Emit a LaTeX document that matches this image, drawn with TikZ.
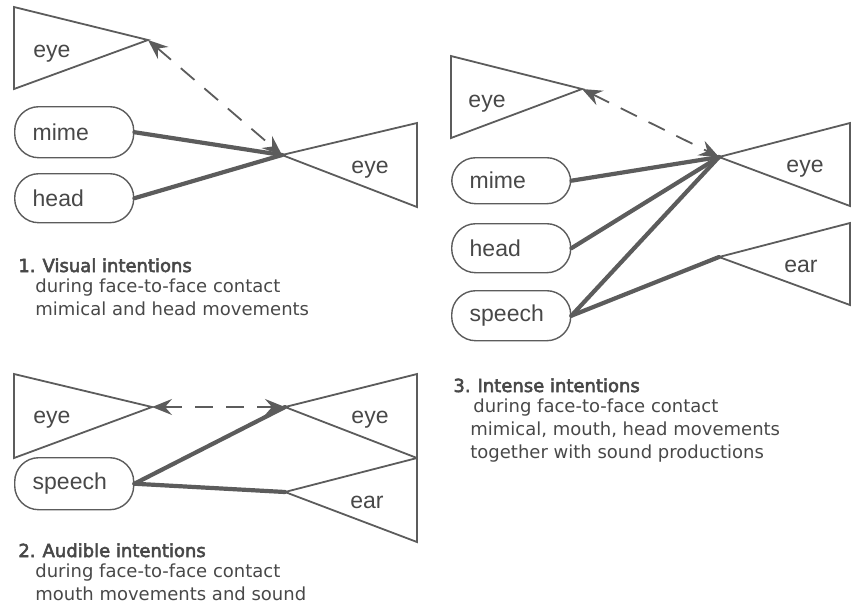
\documentclass[tikz,border=0pt]{standalone}
\usepackage{fontspec}
\setmainfont{Liberation Sans}
\newfontfamily\capfont{DejaVu Sans}
\newfontfamily\headfont[FakeBold=3]{DejaVu Sans}
\usetikzlibrary{arrows.meta, positioning}
\definecolor{line_gray}{RGB}{92, 92, 92}
\definecolor{ink_gray}{RGB}{72, 72, 72}
\def \HS {\hspace{3.5pt}}

\begin{document}
\begin{tikzpicture}[
    x=0.5pt, y=-0.5pt,
    organ/.style={
        draw=line_gray,
        line width=0.9pt,
        line join=miter
    },
    organlabel/.style={
        text=ink_gray,
        inner sep=0pt,
        anchor=base,
        font=\fontsize{11.5}{13}\selectfont
    },
    source/.style={
        rectangle,
        rounded corners=12pt,
        draw=line_gray,
        line width=0.7pt,
        anchor=north west,
        minimum height=#1,
        text width=41.5pt,
        inner xsep=9pt,
        inner ysep=0pt,
        align=left,
        text=ink_gray,
        font=\fontsize{11.5}{13}\selectfont
    },
    link/.style={
        draw=line_gray,
        line width=2.1pt,
        line cap=round
    },
    gaze/.style={
        {Stealth[length=10pt,width=8pt,inset=3.5pt]}-{Stealth[length=10pt,width=8pt,inset=3.5pt]},
        draw=line_gray,
        line width=0.9pt,
        dash pattern=on 9pt off 6.5pt
    },
    heading/.style={
        text=ink_gray,
        inner sep=0pt,
        anchor=base west,
        font=\headfont\fontsize{9}{11.5}\selectfont
    },
    caption/.style={
        text=ink_gray,
        inner sep=0pt,
        anchor=north west,
        align=left,
        font=\capfont\fontsize{9}{11.5}\selectfont
    }
]
\useasboundingbox (0,0) rectangle (856,607);

% Panel 1: visual intentions
\coordinate (v_other) at (148,40);
\coordinate (v_eye) at (282,155);
\draw[organ] (14,7) -- (v_other) -- (14,89) -- cycle;
\draw[organ] (417,123) -- (v_eye) -- (417,207) -- cycle;
\node[organlabel] (v_other_lbl) at (52,57) {eye};
\node[organlabel] (v_eye_lbl) at (370,173) {eye};

\node[source=25.5pt] (v_mime) at (14,106) {mime};
\node[source=24.5pt] (v_head) at (14,173) {head};

\draw[link] (v_mime.east) -- (v_eye);
\draw[link] (v_head.east) -- (v_eye);
\draw[gaze] (v_other) -- (v_eye);

\node[heading] (v_title) at (18,272) {1.\HS Visual intentions};
\node[caption] (v_text) at (35,278) {during face-to-face contact\\mimical and head movements};

% Panel 2: audible intentions
\coordinate (a_other) at (152,407);
\coordinate (a_eye) at (285,407);
\coordinate (a_ear) at (285,492);
\draw[organ] (14,374) -- (a_other) -- (14,458) -- cycle;
\draw[organ] (417,374) -- (a_eye) -- (417,458) -- cycle;
\draw[organ] (417,458) -- (a_ear) -- (417,542) -- cycle;
\node[organlabel] (a_other_lbl) at (52,423) {eye};
\node[organlabel] (a_eye_lbl) at (370,423) {eye};
\node[organlabel] (a_ear_lbl) at (367,508) {ear};

\node[source=26pt] (a_speech) at (14,457) {speech};

\draw[link] (a_speech.east) -- (a_eye);
\draw[link] (a_speech.east) -- (a_ear);
\draw[gaze] (a_other) -- (a_eye);

\node[heading] (a_title) at (18,557) {2.\HS Audible intentions};
\node[caption] (a_text) at (35,563) {during face-to-face contact\\mouth movements and sound};

% Panel 3: intense intentions
\coordinate (i_other) at (582,89);
\coordinate (i_eye) at (719,157);
\coordinate (i_ear) at (719,257);
\draw[organ] (451,56) -- (i_other) -- (451,138) -- cycle;
\draw[organ] (850,123) -- (i_eye) -- (850,206) -- cycle;
\draw[organ] (850,223) -- (i_ear) -- (850,305) -- cycle;
\node[organlabel] (i_other_lbl) at (487,107) {eye};
\node[organlabel] (i_eye_lbl) at (805,172) {eye};
\node[organlabel] (i_ear_lbl) at (801,272) {ear};

\node[source=23pt] (i_mime) at (451,157) {mime};
\node[source=24.5pt] (i_head) at (451,223) {head};
\node[source=25pt] (i_speech) at (451,290) {speech};

\draw[link] (i_mime.east) -- (i_eye);
\draw[link] (i_head.east) -- (i_eye);
\draw[link] (i_speech.east) -- (i_eye);
\draw[link] (i_speech.east) -- (i_ear);
\draw[gaze] (i_other) -- (i_eye);

\node[heading] (i_title) at (453,392) {3.\HS Intense intentions};
\node[caption] (i_text) at (470,398) {\hspace{1.5pt}during face-to-face contact\\mimical, mouth, head movements\\together with sound productions};

\end{tikzpicture}
\end{document}
